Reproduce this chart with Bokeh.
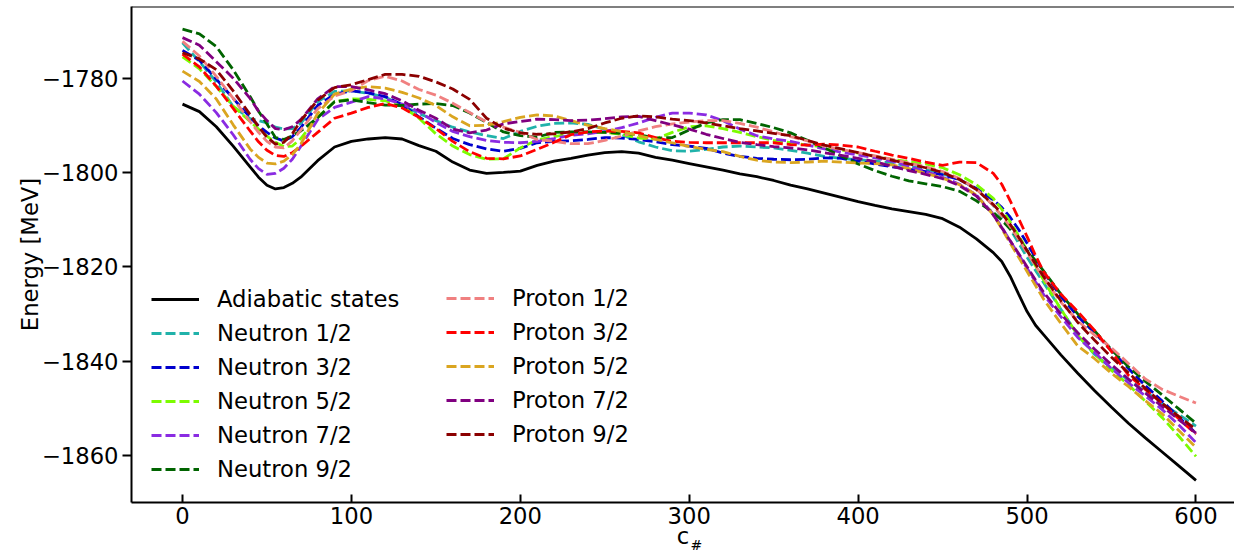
from bokeh.plotting import figure
from bokeh.models import Range1d, FixedTicker, Legend, LegendItem, Span, Label
from bokeh.embed import file_html
from bokeh.resources import INLINE

# ---------------- data ----------------
c_values = [0, 10, 20, 30, 40,
            45, 50, 55, 60, 65, 70,
            80, 90, 100, 110, 120, 130, 140, 150, 160, 170,
            180, 190, 200, 210, 220, 230, 240, 250, 260, 270,
            280, 290, 300, 310, 320, 330, 340, 350, 360, 370,
            380, 390, 400, 410, 420, 430, 440, 450, 460, 470,
            480,
            485, 490, 495, 500, 505, 510,
            520, 530, 540, 550, 560, 570, 580, 590, 600]

adiabatic = [-1785.5, -1787.1, -1790.3, -1794.4, -1798.8,
             -1801.0, -1802.7, -1803.5, -1803.2, -1802.3, -1801.0,
             -1797.5, -1794.6, -1793.4, -1792.9, -1792.6, -1792.9, -1794.3, -1795.5, -1797.8, -1799.5,
             -1800.2, -1800.0, -1799.7, -1798.5, -1797.6, -1797.0, -1796.3, -1795.8, -1795.6, -1795.9,
             -1796.8, -1797.4, -1798.1, -1798.8, -1799.5, -1800.3, -1800.9, -1801.7, -1802.7, -1803.5,
             -1804.4, -1805.3, -1806.2, -1807.0, -1807.7, -1808.3, -1808.9, -1809.8, -1811.6, -1814.1,
             -1817.0,
             -1818.9, -1822.0, -1825.8, -1829.5, -1832.4, -1834.5,
             -1838.7, -1842.6, -1846.3, -1849.8, -1853.2, -1856.3, -1859.3, -1862.3, -1865.3]

neutron_1_2 = [-1772.5, -1776.5, -1780.8, -1786.0, -1788.6,
               -1789.0, -1789.5, -1790.4, -1790.8, -1790.7, -1789.6,
               -1785.0, -1782.8, -1782.7, -1783.2, -1784.0, -1785.8, -1787.5, -1789.0, -1790.4, -1791.4,
               -1792.2, -1792.8, -1791.3, -1790.2, -1789.6, -1789.5, -1789.8, -1790.8, -1792.0, -1793.5,
               -1794.6, -1795.4, -1795.5, -1795.1, -1794.6, -1794.4, -1794.6, -1794.8, -1795.3, -1795.9,
               -1796.6, -1797.0, -1797.3, -1797.6, -1798.0, -1798.6, -1799.3, -1800.3, -1801.5, -1803.5,
               -1807.0,
               -1809.4, -1812.0, -1815.0, -1818.0, -1820.8, -1823.5,
               -1829.0, -1834.5, -1838.6, -1841.5, -1844.0, -1846.5, -1849.0, -1851.4, -1853.8]

neutron_3_2 = [-1774.1, -1776.2, -1780.2, -1784.3, -1788.3,
               -1790.1, -1791.5, -1792.7, -1793.3, -1792.4, -1790.5,
               -1785.8, -1783.4, -1782.7, -1783.1, -1783.9, -1785.6, -1788.2, -1790.6, -1792.8, -1794.1,
               -1795.0, -1795.5, -1794.9, -1793.7, -1793.4, -1793.3, -1793.0, -1792.6, -1792.7, -1793.0,
               -1793.5, -1794.1, -1794.4, -1794.9, -1795.9, -1796.6, -1797.0, -1797.2, -1797.3, -1797.2,
               -1796.9, -1797.0, -1797.6, -1798.2, -1798.8, -1799.3, -1799.8, -1800.5, -1801.5, -1803.4,
               -1805.8,
               -1807.4, -1809.5, -1812.1, -1815.0, -1818.1, -1821.2,
               -1826.3, -1830.5, -1834.0, -1837.8, -1841.6, -1845.2, -1848.5, -1852.0, -1855.3]

neutron_5_2 = [-1775.5, -1778.0, -1781.8, -1785.9, -1789.2,
               -1790.8, -1792.3, -1793.6, -1794.5, -1794.4, -1792.8,
               -1788.3, -1785.0, -1784.4, -1784.5, -1784.8, -1786.0, -1788.5, -1791.8, -1794.4, -1796.2,
               -1797.2, -1797.1, -1794.8, -1793.1, -1792.4, -1791.8, -1791.5, -1791.5, -1791.9, -1792.7,
               -1792.9, -1791.5, -1790.3, -1790.1, -1790.7, -1791.5, -1792.4, -1793.2, -1793.7, -1794.2,
               -1794.6, -1795.2, -1795.9, -1796.6, -1797.2, -1797.7, -1798.2, -1799.0, -1800.5, -1802.6,
               -1805.5,
               -1807.8, -1810.5, -1813.4, -1816.5, -1819.8, -1823.0,
               -1829.0, -1834.5, -1838.5, -1842.0, -1845.0, -1848.5, -1852.0, -1856.0, -1860.2]

neutron_7_2 = [-1780.6, -1783.4, -1787.3, -1792.0, -1797.2,
               -1799.2, -1800.4, -1800.2, -1799.1, -1797.2, -1794.5,
               -1788.8, -1786.2, -1785.1, -1783.9, -1784.4, -1785.5, -1787.1, -1789.4, -1791.3, -1792.4,
               -1793.2, -1793.6, -1793.7, -1793.4, -1792.8, -1792.1, -1791.8, -1791.3, -1790.5, -1789.5,
               -1788.3, -1787.4, -1787.4, -1787.8, -1789.0, -1790.8, -1792.2, -1792.9, -1793.4, -1794.2,
               -1795.0, -1795.7, -1796.3, -1796.9, -1797.6, -1798.7, -1799.8, -1801.0, -1802.5, -1804.8,
               -1808.8,
               -1811.6, -1814.5, -1817.4, -1820.3, -1823.2, -1826.0,
               -1830.6, -1835.0, -1838.2, -1841.6, -1844.6, -1847.4, -1850.3, -1853.6, -1857.3]

neutron_9_2 = [-1769.6, -1770.6, -1773.3, -1778.2, -1783.9,
               -1787.0, -1789.7, -1792.6, -1793.0, -1792.2, -1791.2,
               -1788.4, -1785.0, -1784.6, -1785.2, -1785.7, -1785.8, -1785.5, -1785.4, -1785.8, -1787.4,
               -1789.4, -1791.4, -1792.2, -1792.5, -1791.5, -1791.4, -1791.4, -1791.5, -1791.7, -1792.0,
               -1792.7, -1792.6, -1791.0, -1789.5, -1788.8, -1788.8, -1789.6, -1790.5, -1791.6, -1793.2,
               -1794.8, -1796.5, -1798.2, -1799.6, -1800.8, -1801.8, -1802.4, -1803.0, -1804.0, -1806.0,
               -1808.5,
               -1810.1, -1812.0, -1814.1, -1816.5, -1818.7, -1821.0,
               -1825.8, -1830.0, -1833.6, -1837.6, -1841.2, -1844.3, -1847.2, -1850.2, -1853.2]

proton_1_2 = [-1772.2, -1775.3, -1779.6, -1784.3, -1789.2,
              -1791.5, -1793.4, -1794.6, -1794.8, -1793.3, -1791.0,
              -1786.5, -1783.8, -1782.6, -1780.5, -1779.6, -1780.6, -1782.4, -1783.6, -1785.3, -1787.3,
              -1789.3, -1790.4, -1791.5, -1793.0, -1793.4, -1793.9, -1793.9, -1793.2, -1792.3, -1791.2,
              -1790.3, -1789.7, -1789.3, -1789.0, -1789.0, -1789.6, -1790.4, -1791.4, -1792.4, -1793.3,
              -1794.4, -1795.1, -1795.8, -1796.5, -1797.2, -1798.0, -1798.8, -1799.8, -1801.3, -1803.5,
              -1807.0,
              -1809.2, -1811.5, -1814.2, -1817.0, -1819.8, -1822.5,
              -1827.5, -1831.5, -1834.5, -1837.2, -1840.5, -1843.8, -1846.0, -1847.5, -1848.9]

proton_3_2 = [-1774.9, -1777.6, -1781.7, -1786.4, -1791.2,
              -1793.5, -1795.3, -1796.4, -1796.6, -1795.8, -1794.5,
              -1791.5, -1788.5, -1787.4, -1786.2, -1785.4, -1786.3, -1788.3, -1790.7, -1793.4, -1795.6,
              -1797.0, -1797.1, -1796.5, -1795.1, -1793.6, -1792.0, -1791.4, -1791.2, -1791.3, -1791.6,
              -1792.6, -1793.4, -1793.6, -1793.7, -1793.7, -1793.7, -1793.7, -1793.7, -1794.1, -1794.2,
              -1794.0, -1794.2, -1794.6, -1795.5, -1796.3, -1797.0, -1797.8, -1798.5, -1797.8, -1797.9,
              -1800.2,
              -1802.5, -1806.0, -1809.8, -1813.6, -1817.6, -1821.2,
              -1825.8, -1829.5, -1833.5, -1838.0, -1843.0, -1846.0, -1849.0, -1852.3, -1855.5]

proton_5_2 = [-1778.5, -1780.7, -1784.4, -1789.9, -1795.0,
              -1796.8, -1798.0, -1798.2, -1797.6, -1796.2, -1794.0,
              -1787.5, -1783.4, -1782.3, -1781.8, -1782.1, -1783.0, -1784.2, -1785.8, -1788.2, -1790.1,
              -1790.0, -1789.2, -1788.3, -1787.8, -1788.0, -1789.0, -1790.0, -1790.7, -1791.3, -1792.2,
              -1793.0, -1793.7, -1794.5, -1795.1, -1795.6, -1796.6, -1797.4, -1797.8, -1797.9, -1797.8,
              -1797.6, -1797.8, -1798.0, -1798.1, -1798.4, -1799.2, -1800.2, -1801.2, -1802.6, -1804.8,
              -1809.0,
              -1811.9, -1815.0, -1818.0, -1821.0, -1824.0, -1827.0,
              -1832.0, -1836.8, -1839.5, -1842.6, -1845.4, -1848.4, -1851.2, -1854.8, -1858.3]

proton_7_2 = [-1771.4, -1773.0, -1776.5, -1780.0, -1784.3,
              -1787.0, -1789.0, -1790.7, -1790.9, -1790.3, -1788.8,
              -1784.4, -1781.8, -1781.8, -1782.5, -1783.3, -1784.8, -1786.8, -1788.5, -1790.8, -1791.6,
              -1791.0, -1789.7, -1789.2, -1788.7, -1788.8, -1789.0, -1788.9, -1788.6, -1788.2, -1788.1,
              -1789.0, -1789.9, -1790.8, -1791.9, -1792.8, -1793.6, -1794.1, -1794.5, -1794.8, -1795.2,
              -1795.8, -1796.4, -1797.0, -1797.7, -1798.7, -1799.6, -1800.4, -1801.3, -1802.8, -1805.0,
              -1809.0,
              -1811.7, -1814.5, -1817.2, -1820.0, -1822.8, -1825.5,
              -1830.0, -1834.0, -1837.5, -1840.8, -1843.8, -1846.8, -1849.6, -1852.5, -1855.3]

proton_9_2 = [-1774.6, -1775.9, -1778.2, -1782.7, -1787.7,
              -1790.3, -1792.5, -1794.0, -1793.6, -1791.8, -1789.0,
              -1784.7, -1782.0, -1781.4, -1780.3, -1779.2, -1779.2, -1779.6, -1780.8, -1782.3, -1784.5,
              -1788.5, -1790.6, -1791.6, -1791.9, -1791.8, -1791.4, -1790.7, -1789.5, -1788.5, -1788.0,
              -1788.2, -1788.7, -1789.0, -1789.5, -1790.1, -1790.7, -1791.2, -1791.7, -1792.2, -1793.2,
              -1794.2, -1795.0, -1795.8, -1796.6, -1797.4, -1798.2, -1799.0, -1800.0, -1801.5, -1803.6,
              -1806.8,
              -1808.7, -1811.0, -1813.7, -1816.6, -1819.4, -1822.2,
              -1827.2, -1831.8, -1835.6, -1839.2, -1842.5, -1845.8, -1849.0, -1851.8, -1854.5]

x_ticks = [0, 100, 200, 300, 400, 500, 600]
y_ticks = [-1860, -1840, -1820, -1800, -1780]

series_names = ["Neutron 1/2", "Neutron 3/2", "Neutron 5/2", "Neutron 7/2", "Neutron 9/2",
                "Proton 1/2", "Proton 3/2", "Proton 5/2", "Proton 7/2", "Proton 9/2"]
series_values = [neutron_1_2, neutron_3_2, neutron_5_2, neutron_7_2, neutron_9_2,
                 proton_1_2, proton_3_2, proton_5_2, proton_7_2, proton_9_2]
series_colors = ["lightseagreen", "mediumblue", "lawngreen", "blueviolet", "darkgreen",
                 "lightcoral", "red", "goldenrod", "purple", "darkred"]

# ---------------- figure ----------------
FONT = "DejaVu Sans"
FS = "22.7px"

p = figure(width=1234, height=551, output_backend="svg", toolbar_location=None,
           x_range=Range1d(-30.2, 622.8), y_range=Range1d(-1870.0, -1764.8),
           min_border_left=131, min_border_right=0, min_border_top=6, min_border_bottom=49)
p.background_fill_color = "white"
p.border_fill_color = "white"
p.outline_line_color = None
p.xgrid.visible = False
p.ygrid.visible = False

r_adi = p.line(c_values, adiabatic, line_color="black", line_width=2.8)
renderers = []
for vals, col in zip(series_values, series_colors):
    r = p.line(c_values, vals, line_color=col, line_width=2.8, line_dash="10 4")
    renderers.append(r)

# top spine
p.add_layout(Span(location=-1764.8, dimension="width", line_color="black", line_width=2))

# axes
xa = p.xaxis[0]
xa.ticker = FixedTicker(ticks=x_ticks)
xa.major_tick_in = 8
xa.major_tick_out = 0
xa.minor_tick_line_color = None
xa.major_tick_line_width = 2
xa.axis_line_width = 2
xa.major_label_text_font = FONT
xa.major_label_text_font_size = FS
xa.major_label_text_color = "black"
xa.major_label_standoff = 4
xa.axis_label = "c"
xa.axis_label_text_font = FONT
xa.axis_label_text_font_size = FS
xa.axis_label_text_font_style = "normal"
xa.axis_label_text_color = "black"
xa.axis_label_standoff = -4

ya = p.yaxis[0]
ya.ticker = FixedTicker(ticks=y_ticks)
ya.major_tick_in = 0
ya.major_tick_out = 9
ya.minor_tick_line_color = None
ya.major_tick_line_width = 2
ya.axis_line_width = 2
ya.major_label_text_font = FONT
ya.major_label_text_font_size = FS
ya.major_label_text_color = "black"
ya.major_label_standoff = 4
ya.major_label_overrides = {t: "\u2212" + str(abs(t)) for t in y_ticks}
ya.axis_label = "Energy [MeV]"
ya.axis_label_text_font = FONT
ya.axis_label_text_font_size = FS
ya.axis_label_text_font_style = "normal"
ya.axis_label_text_color = "black"
ya.axis_label_standoff = -4

# subscript "#" of the x label, in a side panel so that it is not clipped by the frame
p.add_layout(Label(x=689, y=-42, x_units="screen", y_units="screen", text="#",
                   text_font=FONT, text_font_size="14px", text_color="black",
                   text_baseline="alphabetic", text_align="left"), "left")

# legends
def make_legend(items, loc):
    lg = Legend(items=items, location=loc, orientation="vertical",
                label_text_font=FONT, label_text_font_size=FS, label_text_color="black",
                glyph_width=48, glyph_height=34, label_height=34, label_standoff=18,
                spacing=0, padding=0, margin=0,
                border_line_color=None, background_fill_alpha=0.0)
    return lg

items1 = [LegendItem(label="Adiabatic states", renderers=[r_adi])]
items1 += [LegendItem(label=series_names[i], renderers=[renderers[i]]) for i in range(5)]
items2 = [LegendItem(label=series_names[i], renderers=[renderers[i]]) for i in range(5, 10)]

p.add_layout(make_legend(items1, (20, 16)))
p.add_layout(make_legend(items2, (315, 51)))

open("out.html", "w").write(file_html(p, INLINE))
